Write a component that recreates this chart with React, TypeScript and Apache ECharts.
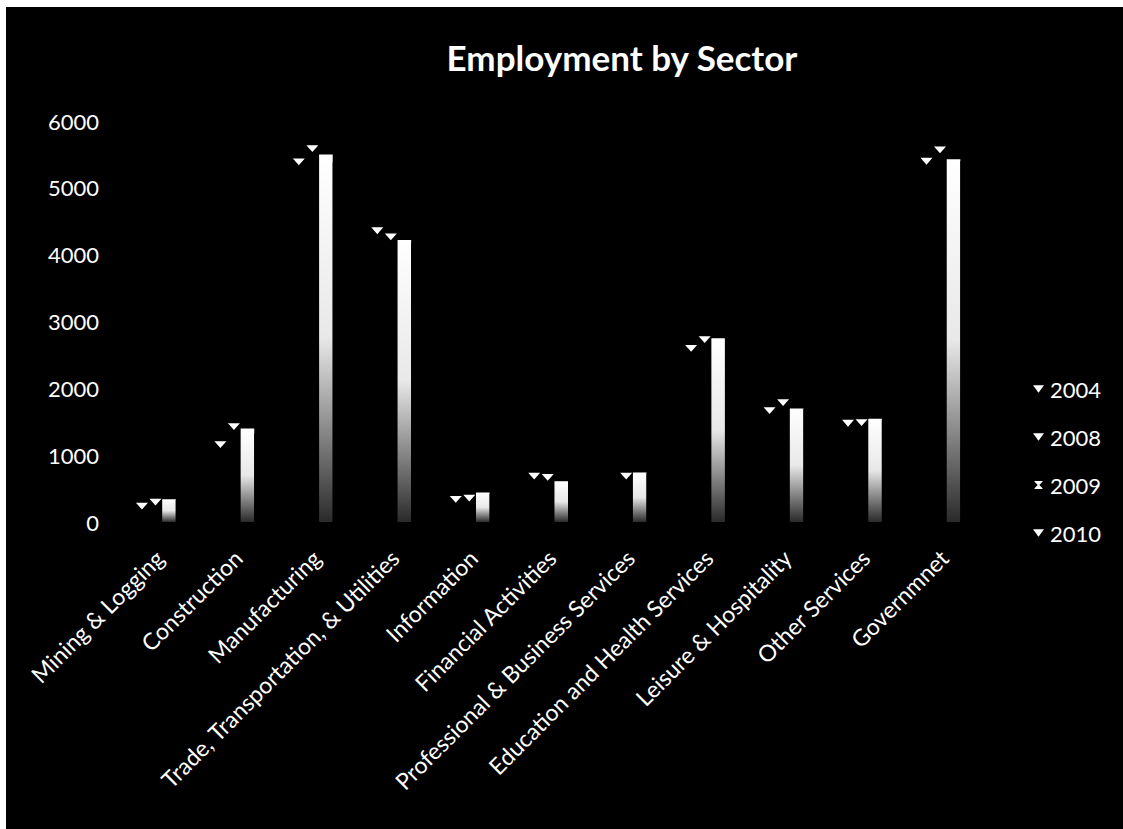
import React, { useEffect, useRef } from "react";
import * as echarts from "echarts";

const categories = [
  "Mining & Logging",
  "Construction",
  "Manufacturing",
  "Trade, Transportation, & Utilities",
  "Information",
  "Financial Activities",
  "Professional & Business Services",
  "Education and Health Services",
  "Leisure & Hospitality",
  "Other Services",
  "Governmnet",
];
const years = ["2004", "2008", "2009", "2010"];
const values2004 = [290, 1210, 5440, 4410, 390, 740, null, 2650, 1720, 1530, 5450];
const values2008 = [350, 1480, 5640, 4320, 410, 720, 740, 2780, 1840, 1540, 5620];
const values2009 = [340, 1400, 5500, 4220, 440, 610, 740, 2750, 1700, 1545, 5430];
const values2010 = [330, 1330, 5380, 4180, 420, 600, 730, 2800, 1690, 1530, 5400];
const yMin = 0;
const yMax = 6000;
const yStep = 1000;

const FONT = "Lato, 'Open Sans', sans-serif";
const triIcon = "path://M0,0L10,0L5,7Z";
const hourIcon = "path://M0,0L10,0L10,1L6,5L10,9L10,10L0,10L0,9L4,5L0,1Z";

export default function App() {
  const ref = useRef<HTMLDivElement>(null);

  useEffect(() => {
    document.body.style.margin = "0";
    document.body.style.background = "#000000";
    if (!ref.current) return;
    const chart = echarts.init(ref.current, undefined, { renderer: "svg" });

    const triSeries = (name: string, data: (number | null)[]) => ({
      type: "pictorialBar",
      name,
      data: data.map((v) => (v === null ? "-" : v)),
      symbol: "triangle",
      symbolRotate: 180,
      symbolPosition: "end",
      symbolSize: [12, 7],
      itemStyle: { color: "#ffffff" },
      barGap: "0%",
      barCategoryGap: "31%",
    });

    const option: any = {
      animation: false,
      backgroundColor: "#000000",
      title: {
        text: "Employment by Sector",
        left: 617,
        textAlign: "center",
        top: 34,
        textStyle: {
          color: "#ffffff",
          fontSize: 35,
          fontWeight: "bold",
          fontFamily: FONT,
        },
      },
      graphic: [
        { type: "rect", shape: { x: 0, y: 0, width: 1123, height: 7 }, style: { fill: "#ffffff" } },
        { type: "rect", shape: { x: 0, y: 0, width: 6, height: 829 }, style: { fill: "#ffffff" } },
      ],
      legend: {
        orient: "vertical",
        left: 1028,
        top: 373,
        itemWidth: 11,
        itemHeight: 8,
        itemGap: 26,
        textStyle: { color: "#ffffff", fontSize: 22, fontFamily: FONT, padding: [0, 0, 0, 1] },
        data: [
          { name: years[0], icon: triIcon, itemStyle: { color: "#ffffff" } },
          { name: years[1], icon: triIcon, itemStyle: { color: "#ffffff" } },
          { name: years[2], icon: hourIcon, itemStyle: { color: "#ffffff" } },
          { name: years[3], icon: triIcon, itemStyle: { color: "#ffffff" } },
        ],
      },
      grid: { left: 123, right: 137, top: 121, bottom: 307, containLabel: false },
      xAxis: {
        type: "category",
        data: categories,
        axisLine: { show: false },
        axisTick: { show: false },
        axisLabel: {
          rotate: 45,
          interval: 0,
          color: "#ffffff",
          fontSize: 23,
          fontFamily: FONT,
          margin: 29,
          padding: [0, 4, 0, 0],
        },
      },
      yAxis: {
        type: "value",
        min: yMin,
        max: yMax,
        interval: yStep,
        axisLine: { show: false },
        axisTick: { show: false },
        splitLine: { show: false },
        axisLabel: {
          color: "#ffffff",
          fontSize: 22,
          fontFamily: FONT,
          margin: 24,
          formatter: (v: number) => String(v),
        },
      },
      series: [
        triSeries(years[0], values2004),
        triSeries(years[1], values2008),
        {
          type: "pictorialBar",
          name: years[2],
          data: values2009,
          symbol: "rect",
          symbolSize: ["100%", "100%"],
          barGap: "0%",
          barCategoryGap: "31%",
          itemStyle: {
            color: new echarts.graphic.LinearGradient(0, 0, 0, 1, [
              { offset: 0, color: "#ffffff" },
              { offset: 0.5, color: "#e8e8e8" },
              { offset: 1, color: "#2a2a2a" },
            ]),
          },
        },
        {
          type: "pictorialBar",
          name: years[3],
          data: values2010,
          symbol: "rect",
          symbolSize: ["100%", "100%"],
          barGap: "0%",
          barCategoryGap: "31%",
          itemStyle: { color: "#000000" },
        },
      ],
    };

    chart.setOption(option);
    return () => chart.dispose();
  }, []);

  return (
    <div
      ref={ref}
      style={{ position: "fixed", left: 0, top: 0, width: 1123, height: 829 }}
    />
  );
}
